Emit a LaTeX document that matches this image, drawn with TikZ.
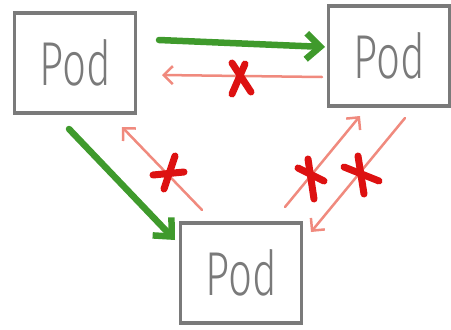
\documentclass[tikz,border=0pt]{standalone}
\usepackage{fontspec}
\setsansfont{Fira Sans Light}
\usetikzlibrary{arrows.meta}
\definecolor{boxgray}{HTML}{7A7A7A}
\definecolor{okgreen}{HTML}{3F9A2C}
\definecolor{blockpink}{HTML}{F08A7E}
\definecolor{crossred}{HTML}{DD1111}
\begin{document}
\begin{tikzpicture}[x=1pt,y=-1pt,
  pod/.style={draw=boxgray,line width=3.5pt,rectangle,inner sep=0pt,
    minimum width=121pt,minimum height=100pt,text=boxgray,
    font=\sffamily\fontsize{62}{62}\selectfont},
  okarrow/.style={draw=okgreen,line width=6.5pt,line cap=round,
    -{Straight Barb[length=14pt,width=26pt,line width=6.5pt]}},
  noarrow/.style={draw=blockpink,line width=2.5pt,line cap=round,
    -{Straight Barb[length=9pt,width=18pt,line width=2.5pt]}},
  cross/.style={draw=crossred,line width=7pt,line cap=round}]
\useasboundingbox (0,0) rectangle (451,330);
% the three pods
\node[pod] (a) at (75,63) {\scalebox{0.68}[1]{Pod}};
\node[pod] (b) at (389,56) {\scalebox{0.68}[1]{Pod}};
\node[pod] (c) at (241,273) {\scalebox{0.68}[1]{Pod}};
% end points of the connections
\coordinate (ba1) at (322,77);
\coordinate (ba2) at (162,75);
\coordinate (ca1) at (202,210);
\coordinate (ca2) at (122,127);
\coordinate (cb1) at (285,207);
\coordinate (cb2) at (360,116);
\coordinate (bc1) at (405,118);
\coordinate (bc2) at (311,232);
\coordinate (ab1) at (159,40);
\coordinate (ab2) at (325,47);
\coordinate (ac1) at (69,129);
\coordinate (ac2) at (175,240);
% allowed traffic
\draw[okarrow] (ab1) -- (ab2);
\draw[okarrow] (ac1) -- (ac2);
% blocked traffic
\draw[noarrow] (ba1) -- (ba2);
\draw[noarrow] (ca1) -- (ca2);
\draw[noarrow] (cb1) -- (cb2);
\draw[noarrow] (bc1) -- (bc2);
% crosses on the blocked connections
\draw[cross] (232,63) -- (251,92);  \draw[cross] (245,64) -- (232,94);
\draw[cross] (153,175) -- (184,172); \draw[cross] (175,156) -- (164,189);
\draw[cross] (308,159) -- (314,199); \draw[cross] (298,168) -- (324,181);
\draw[cross] (358,156) -- (364,194); \draw[cross] (344,167) -- (379,181);
\end{tikzpicture}
\end{document}
